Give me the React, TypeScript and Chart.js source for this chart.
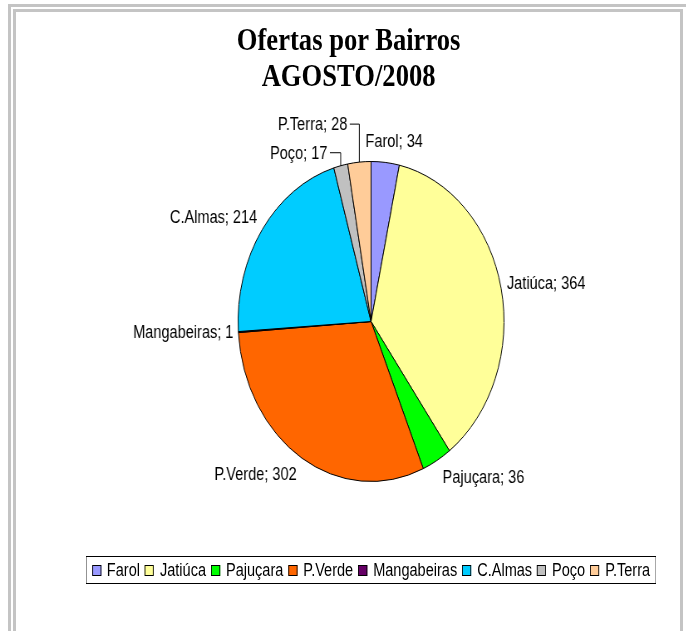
import React, { useEffect, useRef } from "react";
import { Chart, registerables } from "chart.js";

Chart.register(...registerables);

// ---- data ----
const categories = ["Farol", "Jatiúca", "Pajuçara", "P.Verde", "Mangabeiras", "C.Almas", "Poço", "P.Terra"];
const values = [34, 364, 36, 302, 1, 214, 17, 28];
const colors = ["#9999FF", "#FFFF99", "#00FF00", "#FF6600", "#660066", "#00CCFF", "#C0C0C0", "#FFCC99"];
const titleLines = ["Ofertas por Bairros", "AGOSTO/2008"];

// ---- layout / style (not data) ----
const SX = 0.831; // horizontal compression of the whole picture
const W = 826;
const H = 631;
const LABEL_FONT = '17.5px "Liberation Sans", Arial, sans-serif';
const leaderLabels: Record<number, { dx: number; dy: number }> = {
  6: { dx: -16, dy: -12 },
  7: { dx: -14.5, dy: -37 },
};

const labelPlugin = {
  id: "pieLabels",
  afterDatasetsDraw(chart: any) {
    const ctx = chart.ctx;
    const meta = chart.getDatasetMeta(0);
    ctx.save();
    ctx.font = LABEL_FONT;
    ctx.fillStyle = "#000";
    ctx.strokeStyle = "#000";
    ctx.lineWidth = 1;
    ctx.textBaseline = "middle";
    meta.data.forEach((arc: any, i: number) => {
      const { x, y, startAngle, endAngle, outerRadius } = arc.getProps(
        ["x", "y", "startAngle", "endAngle", "outerRadius"],
        true
      );
      const mid = (startAngle + endAngle) / 2;
      const ux = Math.cos(mid);
      const uy = Math.sin(mid);
      const px = x + ux * outerRadius;
      const py = y + uy * outerRadius;
      const text = `${categories[i]}; ${values[i]}`;
      const w = ctx.measureText(text).width;
      const lead = leaderLabels[i];
      if (lead) {
        const right = px + lead.dx;
        const cy = py + lead.dy;
        ctx.textAlign = "right";
        ctx.fillText(text, right, cy);
        ctx.beginPath();
        ctx.moveTo(right + 3, cy - 1);
        ctx.lineTo(px, cy - 1);
        ctx.lineTo(px, py);
        ctx.stroke();
        return;
      }
      const cy = py + uy * 20;
      if (ux > 0.25) {
        ctx.textAlign = "left";
        ctx.fillText(text, px + 7, cy);
      } else if (ux < -0.25) {
        ctx.textAlign = "right";
        ctx.fillText(text, px - 6, cy);
      } else {
        ctx.textAlign = "center";
        ctx.fillText(text, px + (ux * w) / 2 + 7, cy);
      }
    });
    ctx.restore();
  },
};

export default function App() {
  const canvasRef = useRef<HTMLCanvasElement | null>(null);

  useEffect(() => {
    if (!canvasRef.current) return;
    const chart = new Chart(canvasRef.current, {
      type: "pie",
      data: {
        labels: categories,
        datasets: [
          {
            data: values,
            backgroundColor: colors,
            borderColor: "#000000",
            borderWidth: 1,
          },
        ],
      },
      options: {
        responsive: false,
        animation: false,
        events: [],
        layout: { padding: { left: 286, right: 219, top: 161, bottom: 149 } },
        plugins: {
          legend: { display: false },
          title: { display: false },
          tooltip: { enabled: false },
        },
      },
      plugins: [labelPlugin],
    });
    return () => chart.destroy();
  }, []);

  const gray = "#c4c4c4";

  return (
    <div style={{ position: "absolute", left: 0, top: 0, width: 686, height: 631, overflow: "hidden", background: "#fff" }}>
      {/* outer partial frame */}
      <div style={{ position: "absolute", left: 8, top: 4, width: 678, height: 3, background: gray }} />
      <div style={{ position: "absolute", left: 8, top: 4, width: 3, height: 627, background: gray }} />
      {/* inner frame */}
      <div
        style={{
          position: "absolute",
          left: 13,
          top: 9,
          width: 670,
          height: 625,
          border: `3px solid ${gray}`,
          boxSizing: "border-box",
        }}
      />
      {/* horizontally compressed content */}
      <div
        style={{
          position: "absolute",
          left: 0,
          top: 0,
          width: W,
          height: H,
          transform: `scaleX(${SX})`,
          transformOrigin: "0 0",
        }}
      >
        <canvas ref={canvasRef} width={W} height={H} style={{ position: "absolute", left: 0, top: 0 }} />
        <div
          style={{
            position: "absolute",
            left: 419.5 - 300,
            top: 20.6,
            width: 600,
            textAlign: "center",
            fontFamily: '"Liberation Serif", "Times New Roman", serif',
            fontWeight: "bold",
            fontSize: 32,
            lineHeight: "36px",
            color: "#000",
          }}
        >
          {titleLines.map((t) => (
            <div key={t}>{t}</div>
          ))}
        </div>
        <div
          style={{
            position: "absolute",
            left: 103,
            top: 556,
            width: 687,
            height: 28,
            border: "1px solid #000",
            boxSizing: "border-box",
            display: "flex",
            alignItems: "center",
            justifyContent: "center",
            fontFamily: '"Liberation Sans", Arial, sans-serif',
            fontSize: 17.5,
            color: "#000",
            whiteSpace: "nowrap",
          }}
        >
          {categories.map((c, i) => (
            <div key={c} style={{ display: "flex", alignItems: "center", marginRight: i < categories.length - 1 ? 6 : 0 }}>
              <span
                style={{
                  display: "inline-block",
                  width: 9,
                  height: 9,
                  border: "1px solid #000",
                  background: colors[i],
                  marginRight: 7,
                }}
              />
              <span>{c}</span>
            </div>
          ))}
        </div>
      </div>
    </div>
  );
}
